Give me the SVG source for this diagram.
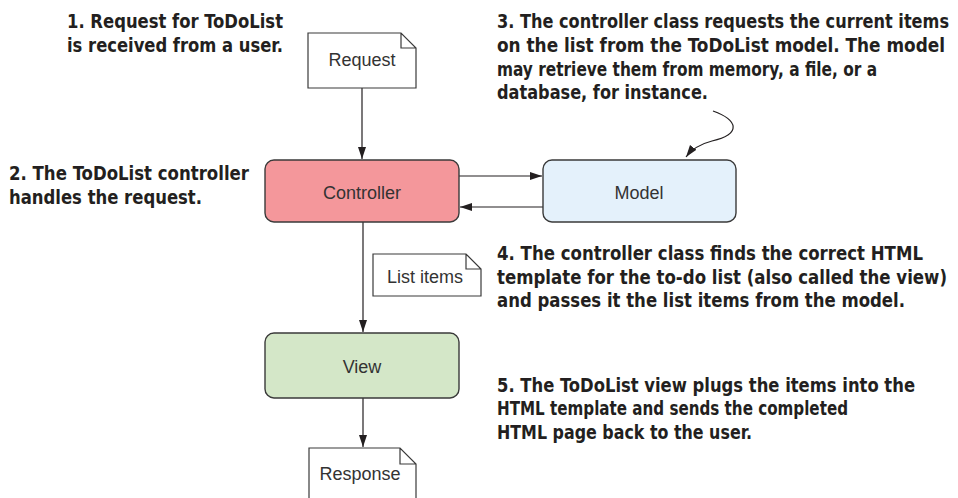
<svg xmlns="http://www.w3.org/2000/svg" width="958" height="498" viewBox="0 0 958 498">
<defs>
<style>
.note{font-family:"Liberation Sans Narrow","DejaVu Sans Condensed","Open Sans",sans-serif;font-weight:bold;font-stretch:condensed;font-size:19px;fill:#231f20}
.lbl{font-family:"Liberation Sans",Arial,sans-serif;font-size:18px;fill:#333;text-anchor:middle}
.box{stroke:#3a3a3a;stroke-width:1.4}
.doc{fill:#fff;stroke:#3a3a3a;stroke-width:1.2}
.edge{fill:none;stroke:#231f20;stroke-width:1.2}
</style>
<marker id="ah" viewBox="0 0 12 10" refX="12" refY="5" markerWidth="12" markerHeight="10" markerUnits="userSpaceOnUse" orient="auto">
<path d="M0,1 L12,5 L0,9 z" fill="#231f20"/>
</marker>
</defs>
<rect width="958" height="498" fill="#fff"/>

<g id="notes">
<text class="note" x="67" y="28" textLength="216" lengthAdjust="spacingAndGlyphs">1. Request for ToDoList</text>
<text class="note" x="67" y="52" textLength="216" lengthAdjust="spacingAndGlyphs">is received from a user.</text>
<text class="note" x="9" y="180" textLength="240" lengthAdjust="spacingAndGlyphs">2. The ToDoList controller</text>
<text class="note" x="9" y="204" textLength="193" lengthAdjust="spacingAndGlyphs">handles the request.</text>
<text class="note" x="497" y="28" textLength="452" lengthAdjust="spacingAndGlyphs">3. The controller class requests the current items</text>
<text class="note" x="497" y="52" textLength="448" lengthAdjust="spacingAndGlyphs">on the list from the ToDoList model. The model</text>
<text class="note" x="497" y="76" textLength="380" lengthAdjust="spacingAndGlyphs">may retrieve them from memory, a file, or a</text>
<text class="note" x="497" y="99" textLength="211" lengthAdjust="spacingAndGlyphs">database, for instance.</text>
<text class="note" x="497" y="260" textLength="426" lengthAdjust="spacingAndGlyphs">4. The controller class finds the correct HTML</text>
<text class="note" x="497" y="284" textLength="450" lengthAdjust="spacingAndGlyphs">template for the to-do list (also called the view)</text>
<text class="note" x="497" y="307" textLength="408" lengthAdjust="spacingAndGlyphs">and passes it the list items from the model.</text>
<text class="note" x="497" y="392" textLength="418" lengthAdjust="spacingAndGlyphs">5. The ToDoList view plugs the items into the</text>
<text class="note" x="497" y="415" textLength="351" lengthAdjust="spacingAndGlyphs">HTML template and sends the completed</text>
<text class="note" x="497" y="439" textLength="255" lengthAdjust="spacingAndGlyphs">HTML page back to the user.</text>
</g>

<g id="connectors">
<line class="edge" x1="362" y1="88" x2="362" y2="159" marker-end="url(#ah)"/>
<line class="edge" x1="459" y1="176" x2="542" y2="176" marker-end="url(#ah)"/>
<line class="edge" x1="543" y1="207" x2="460" y2="207" marker-end="url(#ah)"/>
<line class="edge" x1="363" y1="222" x2="363" y2="332" marker-end="url(#ah)"/>
<line class="edge" x1="363" y1="398" x2="363" y2="447" marker-end="url(#ah)"/>
<path class="edge" d="M713,111 C738,120 742,134 712,141 C700,144 692,149 686,157" marker-end="url(#ah)"/>
</g>

<g id="request">
<path class="doc" d="M308,33 H401 L416,48 V88 H308 Z M401,33 V48 H416"/>
<text class="lbl" x="362" y="66">Request</text>
</g>

<g id="controller">
<rect class="box" x="265" y="160" width="194" height="62" rx="9" fill="#f4979b"/>
<text class="lbl" x="362" y="199">Controller</text>
</g>

<g id="model">
<rect class="box" x="543" y="160" width="193" height="62" rx="9" fill="#e4f1fb"/>
<text class="lbl" x="639" y="199">Model</text>
</g>

<g id="list-items">
<path class="doc" d="M373,254 H466 L481,269 V296 H373 Z M466,254 V269 H481"/>
<text class="lbl" x="425" y="283">List items</text>
</g>

<g id="view">
<rect class="box" x="265" y="333" width="194" height="65" rx="9" fill="#d4e7c8"/>
<text class="lbl" x="362" y="373">View</text>
</g>

<g id="response">
<path class="doc" d="M309,448 H400 L416,464 V505 H309 Z M400,448 V464 H416"/>
<text class="lbl" x="360" y="480">Response</text>
</g>
</svg>
